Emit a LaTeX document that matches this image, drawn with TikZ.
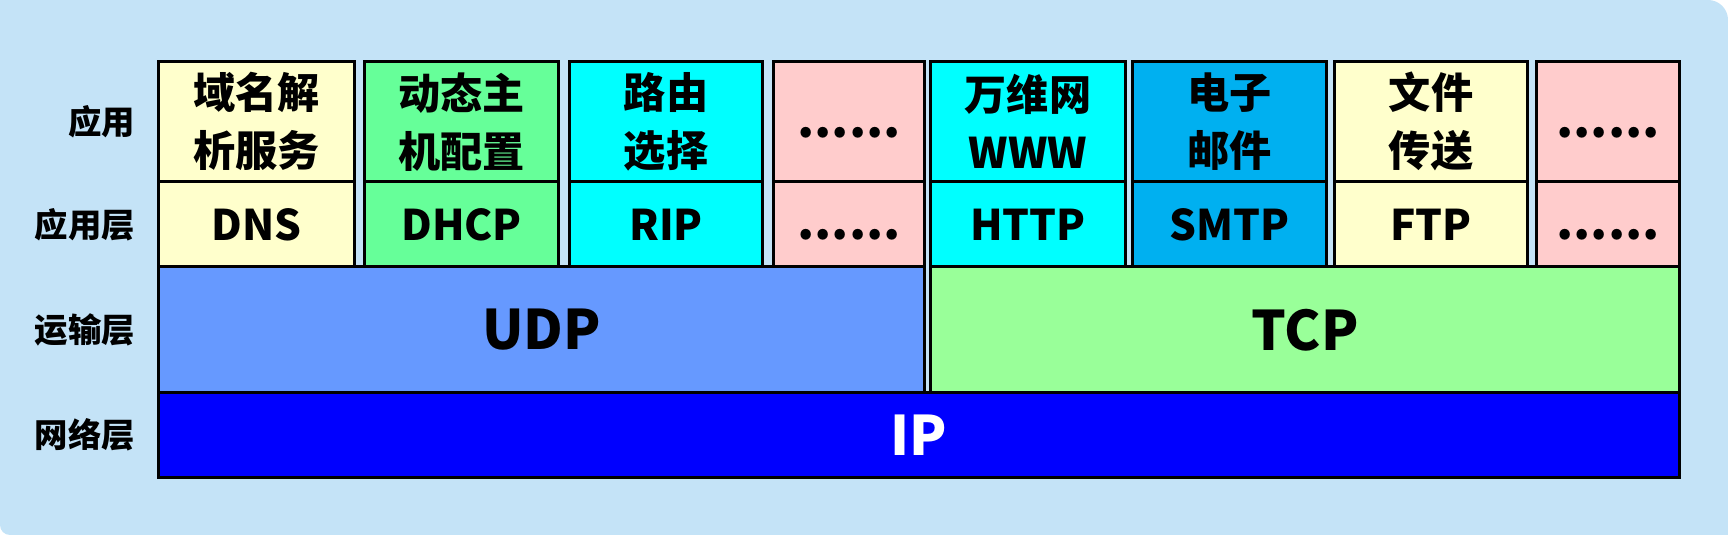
\documentclass[tikz,border=0pt]{standalone}
\usepackage{fontspec}
\setmainfont{Noto Sans CJK SC}
\usepackage{xcolor}
\usepackage{tikz}
\usetikzlibrary{positioning}

\definecolor{bgblue}{RGB}{196,227,247}
\definecolor{cellyellow}{RGB}{255,255,204}
\definecolor{cellgreen}{RGB}{102,255,153}
\definecolor{cellcyan}{RGB}{0,255,255}
\definecolor{cellpink}{RGB}{255,204,204}
\definecolor{cellblue}{RGB}{0,176,240}
\definecolor{udpblue}{RGB}{102,153,255}
\definecolor{tcpgreen}{RGB}{153,255,153}
\definecolor{ipblue}{RGB}{0,0,255}

\newcommand{\moredots}{\vphantom{D}{\fontsize{14}{16}\selectfont......}}

\begin{document}
\begin{tikzpicture}[
    x=1mm, y=-1mm,
    cell/.style={draw, line width=0.3mm, inner sep=0pt, outer sep=0pt, align=center,
        font=\fontsize{12}{16.5}\selectfont\bfseries},
    svc/.style={cell, minimum height=12.05mm},
    proto/.style={cell, minimum height=8.5mm},
    layer/.style={cell, anchor=north west, font=\fontsize{15.5}{18}\selectfont\bfseries},
    lbl/.style={font=\fontsize{9.5}{11}\selectfont\bfseries, inner sep=0pt}
]
    \useasboundingbox (0,0) rectangle (172.8,53.5);

    % Background panel
    \fill[white] (0,0) rectangle (172.8,53.5);
    \fill[bgblue] (0,0) -- (170.8,0) arc[start angle=-90, end angle=0, radius=2]
        -- (172.8,53.5) -- (1,53.5) arc[start angle=90, end angle=180, radius=1] -- cycle;

    % Services
    \node[svc, fill=cellyellow, minimum width=19.6mm, anchor=north west] (svcdns) at (15.85,6.15) {域名解\\析服务};
    \node[svc, fill=cellgreen, minimum width=19.4mm, right=1mm of svcdns] (svcdhcp) {动态主\\机配置};
    \node[svc, fill=cellcyan, minimum width=19.3mm, right=1.1mm of svcdhcp] (svcrip) {路由\\选择};
    \node[svc, fill=cellpink, minimum width=15.1mm, right=1.1mm of svcrip] (svcudpmore) {\moredots};
    \node[svc, fill=cellcyan, minimum width=19.5mm, right=0.6mm of svcudpmore] (svcwww) {万维网\\WWW};
    \node[svc, fill=cellblue, minimum width=19.4mm, right=0.7mm of svcwww] (svcmail) {电子\\邮件};
    \node[svc, fill=cellyellow, minimum width=19.3mm, right=0.8mm of svcmail] (svcftp) {文件\\传送};
    \node[svc, fill=cellpink, minimum width=14.3mm, right=0.9mm of svcftp] (svctcpmore) {\moredots};

    % Application layer protocols
    \node[proto, fill=cellyellow, minimum width=19.6mm, below=0mm of svcdns] (dns) {DNS};
    \node[proto, fill=cellgreen, minimum width=19.4mm, below=0mm of svcdhcp] (dhcp) {DHCP};
    \node[proto, fill=cellcyan, minimum width=19.3mm, below=0mm of svcrip] (rip) {RIP};
    \node[proto, fill=cellpink, minimum width=15.1mm, below=0mm of svcudpmore] (udpmore) {\moredots};
    \node[proto, fill=cellcyan, minimum width=19.5mm, below=0mm of svcwww] (http) {HTTP};
    \node[proto, fill=cellblue, minimum width=19.4mm, below=0mm of svcmail] (smtp) {SMTP};
    \node[proto, fill=cellyellow, minimum width=19.3mm, below=0mm of svcftp] (ftp) {FTP};
    \node[proto, fill=cellpink, minimum width=14.3mm, below=0mm of svctcpmore] (tcpmore) {\moredots};

    % Transport and network layers
    \node[layer, fill=udpblue, minimum width=76.6mm, minimum height=12.6mm] (udp) at (dns.south west) {UDP};
    \node[layer, fill=tcpgreen, minimum width=74.9mm, minimum height=12.6mm] (tcp) at (http.south west) {TCP};
    \node[layer, fill=ipblue, text=white, minimum width=152.1mm, minimum height=8.45mm] (ip) at (udp.south west) {IP};

    % Layer names
    \node[lbl, left=2.3mm of svcdns] (lblapp) {应用};
    \node[lbl, left=2.3mm of dns] (lblappl) {应用层};
    \node[lbl, left=2.3mm of udp] (lbltrans) {运输层};
    \node[lbl, left=2.3mm of ip] (lblnet) {网络层};
\end{tikzpicture}
\end{document}
